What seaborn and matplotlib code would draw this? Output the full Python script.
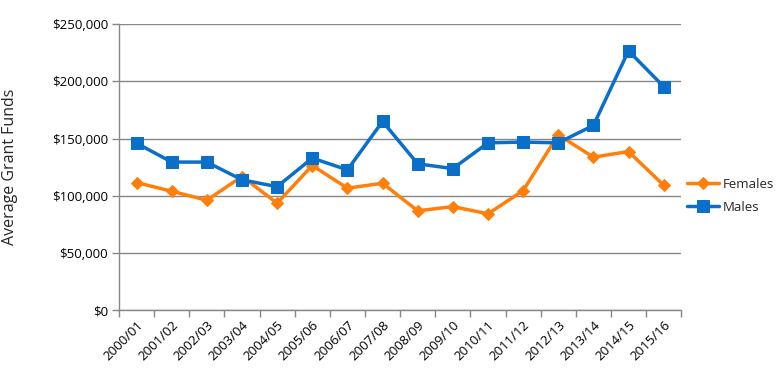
import matplotlib
matplotlib.use("Agg")
import matplotlib.pyplot as plt
import seaborn as sns
import numpy as np
import pandas as pd
from matplotlib.ticker import FuncFormatter, FixedLocator

years = ["2000/01", "2001/02", "2002/03", "2003/04", "2004/05", "2005/06", "2006/07",
         "2007/08", "2008/09", "2009/10", "2010/11", "2011/12", "2012/13", "2013/14",
         "2014/15", "2015/16"]
females = [111600, 104000, 96200, 116900, 93600, 126500, 106700, 111000, 86900, 90600,
           84300, 104500, 153300, 133800, 138700, 109300]
males = [146000, 129500, 129500, 114000, 108000, 133000, 122700, 165000, 128000, 123800,
         146300, 147000, 146300, 161500, 226700, 195500]
yticks = [0, 50000, 100000, 150000, 200000, 250000]

sns.set_theme(style="white")
plt.rcParams['font.family'] = ['Open Sans', 'DejaVu Sans']

fig = plt.figure(figsize=(7.83, 3.84), dpi=100)
ax = fig.add_axes([0.152, 0.192, 0.718, 0.745])

idx = np.arange(len(years))
df = pd.DataFrame({"x": np.concatenate([idx, idx]),
                   "val": females + males,
                   "Series": ["Females"] * len(years) + ["Males"] * len(years)})

orange = "#FF7F0A"
blue = "#0A6FC8"
sns.lineplot(data=df[df.Series == "Females"], x="x", y="val", ax=ax, color=orange,
             linewidth=2.5, marker="D", markersize=6.5, markeredgecolor=orange,
             label="Females")
sns.lineplot(data=df[df.Series == "Males"], x="x", y="val", ax=ax, color=blue,
             linewidth=2.5, marker="s", markersize=8, markeredgecolor=blue,
             label="Males")

ax.set_xlim(-0.5, len(years) - 0.5)
ax.set_ylim(0, 250000)
ax.set_yticks(yticks)
ax.yaxis.set_major_formatter(FuncFormatter(lambda v, p: "${:,.0f}".format(v)))
ax.set_xticks(idx)
ax.set_xticklabels(years, rotation=45, ha="right", rotation_mode="anchor")
ax.xaxis.set_minor_locator(FixedLocator(np.arange(-0.5, len(years), 1.0)))
ax.tick_params(axis="x", which="major", length=0, pad=6, labelsize=9.5, colors="black")
ax.tick_params(axis="x", which="minor", length=5, width=1, color="#878787", bottom=True)
ax.tick_params(axis="y", which="major", length=5, width=1, color="#878787", left=True,
               labelsize=9.5, labelcolor="black", pad=3)

ax.grid(axis="y", color="#878787", linewidth=1)
ax.set_axisbelow(True)
for s in ["top", "right"]:
    ax.spines[s].set_visible(False)
for s in ["left", "bottom"]:
    ax.spines[s].set_color("#878787")
    ax.spines[s].set_linewidth(1)

ax.set_xlabel("")
ax.set_ylabel("Average Grant Funds", fontsize=11.5, labelpad=24)

ax.legend_.remove()
handles, labels = ax.get_legend_handles_labels()
fig.legend(handles, labels, loc="center left", bbox_to_anchor=(0.878, 0.49),
           frameon=False, fontsize=9.5, handlelength=2.4, handletextpad=0.3,
           labelspacing=0.75, borderpad=0, borderaxespad=0)

fig.savefig("out.png", dpi=100)
